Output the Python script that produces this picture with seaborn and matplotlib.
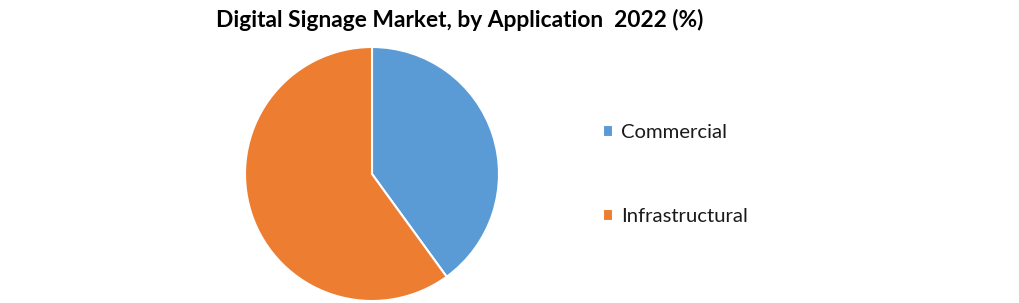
import matplotlib
matplotlib.use("Agg")
import matplotlib.pyplot as plt
import seaborn as sns

sns.set_theme(style="white")
plt.rcParams['font.family'] = ['Lato', 'DejaVu Sans']

categories = ["Commercial", "Infrastructural"]
shares = [40, 60]
colors = ["#5B9BD5", "#ED7D31"]
title = "Digital Signage Market, by Application  2022 (%)"

fig = plt.figure(figsize=(10.2, 3.03), dpi=100)
fig.patch.set_facecolor("white")
W, H = 1020, 303
cx, cy, r = 372, 174, 127
ax = fig.add_axes([(cx - r) / W, (H - cy - r) / H, 2 * r / W, 2 * r / H])
wedges, _ = ax.pie(shares, colors=colors, startangle=90, counterclock=False,
                   radius=1, wedgeprops=dict(edgecolor="white", linewidth=1.5))
ax.set_xlim(-1, 1)
ax.set_ylim(-1, 1)
ax.set_aspect("equal")
ax.axis("off")

fig.text(460 / W, 1 - 20 / H, title, ha="center", va="center",
         fontsize=16.4, fontweight="bold", color="black")

leg = fig.legend(wedges, categories, loc="center left",
                 bbox_to_anchor=(585 / W, 1 - 174.5 / H), frameon=False,
                 fontsize=14.6, handlelength=0.5, handleheight=0.5,
                 handletextpad=0.4, labelspacing=3.3)
for t in leg.get_texts():
    t.set_color("#1a1a1a")

fig.savefig("out.png", dpi=100, facecolor="white")
